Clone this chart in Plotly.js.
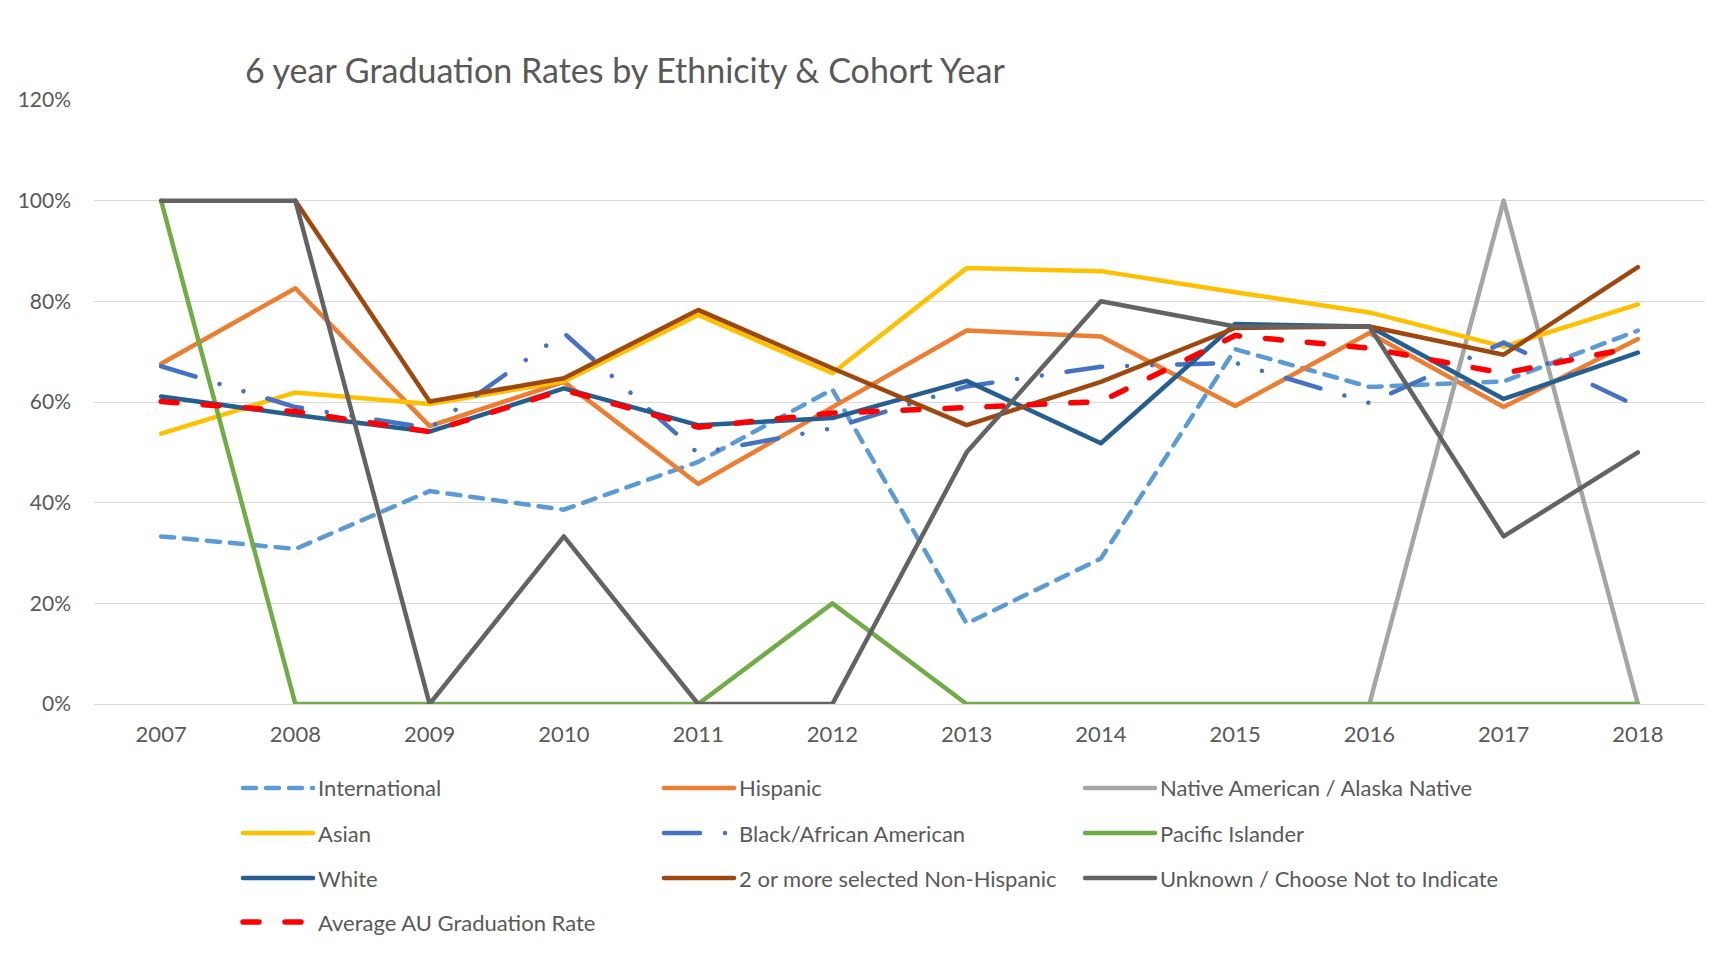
<!DOCTYPE html>
<html>
<head>
<meta charset="utf-8">
<script src="https://cdn.plot.ly/plotly-3.0.1.min.js"></script>
<style>
  html, body { margin: 0; padding: 0; background: #ffffff; }
  #chart { width: 1734px; height: 958px; outline: 1px solid #d9d9d9; outline-offset: -1px; }
  #chart .scatterlayer path.js-line, #chart .legendlines path { stroke-linecap: round; stroke-linejoin: round; }
</style>
</head>
<body>
<div id="chart"></div>
<script>
const years = ['2007','2008','2009','2010','2011','2012','2013','2014','2015','2016','2017','2018'];

const international = [0.333, 0.308, 0.423, 0.386, 0.481, 0.625, 0.160, 0.289, 0.705, 0.630, 0.641, 0.742];
const hispanic      = [0.676, 0.826, 0.552, 0.640, 0.437, 0.590, 0.742, 0.730, 0.592, 0.737, 0.590, 0.725];
const nativeAm      = [null, null, null, null, null, null, null, null, null, 0, 1, 0];
const asian         = [0.537, 0.619, 0.596, 0.641, 0.773, 0.657, 0.866, 0.860, 0.818, 0.778, 0.710, 0.794];
const black         = [0.671, 0.590, 0.548, 0.737, 0.498, 0.548, 0.631, 0.670, 0.678, 0.598, 0.718, 0.591];
const pacific       = [1, 0, 0, 0, 0, 0.2, 0, 0, 0, 0, 0, 0];
const white         = [0.611, 0.574, 0.541, 0.627, 0.554, 0.568, 0.642, 0.518, 0.755, 0.750, 0.606, 0.698];
const twoOrMore     = [null, 1, 0.601, 0.647, 0.783, 0.667, 0.554, 0.640, 0.747, 0.750, 0.694, 0.868];
const unknown       = [1, 1, 0, 0.333, 0, 0, 0.5, 0.8, 0.75, 0.75, 0.333, 0.5];
const average       = [0.601, 0.581, 0.541, 0.624, 0.550, 0.578, 0.589, 0.601, 0.732, 0.707, 0.657, 0.710];

const seriesNames = ['International', 'Hispanic', 'Native American / Alaska Native', 'Asian',
  'Black/African American', 'Pacific Islander', 'White', '2 or more selected Non-Hispanic',
  'Unknown / Choose Not to Indicate', 'Average AU Graduation Rate'];
const seriesValues = [international, hispanic, nativeAm, asian, black, pacific, white, twoOrMore, unknown, average];
const colors = ['#5B9BD5', '#ED7D31', '#A5A5A5', '#FFC000', '#4472C4', '#70AD47', '#255E91', '#9E480E', '#636363', '#FF0000'];
const dashes = ['13px,10px', 'solid', 'solid', 'solid', '36px,25px,0.01px,25px,0.01px,25px', 'solid', 'solid', 'solid', 'solid', '16px,26px'];
const widths = [4.5, 4.5, 4.5, 4.5, 4.5, 4.5, 4.5, 4.5, 4.5, 5.5];
const legendIds = ['legend', 'legend', 'legend', 'legend2', 'legend2', 'legend2', 'legend3', 'legend3', 'legend3', 'legend4'];

const traces = seriesNames.map((name, i) => ({
  type: 'scatter',
  mode: 'lines',
  x: years,
  y: seriesValues[i],
  name: name,
  legend: legendIds[i],
  connectgaps: false,
  line: { color: colors[i], width: widths[i], dash: dashes[i] },
  hoverinfo: 'x+y+name'
}));

const fontFam = 'Lato, "Open Sans", sans-serif';
const txtCol = '#595959';

function legendAt(y) {
  return {
    orientation: 'h',
    x: 0.0894, xanchor: 'left',
    y: y, yanchor: 'middle',
    itemwidth: 70,
    entrywidth: 336, entrywidthmode: 'pixels',
    font: { family: fontFam, size: 22, color: txtCol },
    bgcolor: 'rgba(0,0,0,0)',
    traceorder: 'normal'
  };
}

const layout = {
  width: 1734,
  height: 958,
  paper_bgcolor: '#ffffff',
  plot_bgcolor: '#ffffff',
  margin: { l: 94, r: 29, t: 100, b: 254 },
  title: {
    text: '6 year Graduation Rates by Ethnicity & Cohort Year',
    font: { family: fontFam, size: 34, color: txtCol },
    xref: 'container', x: 0.1413, xanchor: 'left',
    yref: 'container', y: 0.926, yanchor: 'middle'
  },
  xaxis: {
    type: 'category',
    range: [-0.5, 11.5],
    showgrid: false,
    showline: false,
    zeroline: false,
    ticks: '',
    tickfont: { family: fontFam, size: 22, color: txtCol },
    ticklabelstandoff: 15
  },
  yaxis: {
    range: [0, 1.2],
    dtick: 0.2,
    tickformat: '.0%',
    showgrid: true,
    gridcolor: '#D9D9D9',
    gridwidth: 1.4,
    zeroline: true,
    zerolinecolor: '#D9D9D9',
    zerolinewidth: 1.4,
    showline: false,
    ticks: '',
    tickfont: { family: fontFam, size: 21, color: txtCol },
    ticklabelstandoff: 22
  },
  showlegend: true,
  legend: legendAt(-0.1392),
  legend2: legendAt(-0.2138),
  legend3: legendAt(-0.2884),
  legend4: legendAt(-0.3613)
};

Plotly.newPlot('chart', traces, layout, { displayModeBar: false, responsive: false });
</script>
</body>
</html>
